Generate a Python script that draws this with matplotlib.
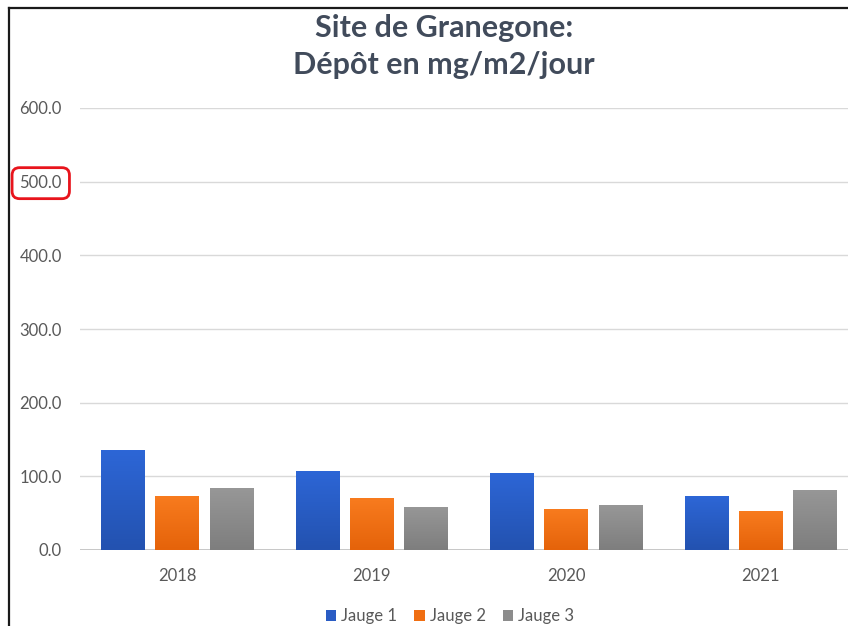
import matplotlib.pyplot as plt
import numpy as np
from matplotlib.colors import LinearSegmentedColormap
from matplotlib.lines import Line2D
from matplotlib.patches import Patch

# ── Data ──────────────────────────────────────────────────────────────────────
years = ["2018", "2019", "2020", "2021"]
jauge_1 = [135.5, 107.5, 105.0, 73.0]
jauge_2 = [73.0, 70.5, 55.5, 52.5]
jauge_3 = [84.0, 59.0, 60.5, 81.5]
series_names = ["Jauge 1", "Jauge 2", "Jauge 3"]
y_ticks = [0, 100, 200, 300, 400, 500, 600]

# (top, bottom) colours of the vertical gradient on each series
GRADIENTS = [("#2D66D6", "#2352B0"), ("#F87B1E", "#E5630A"), ("#979797", "#7E7E7E")]
LEGEND_COLORS = ["#2A5CC4", "#F06E12", "#8C8C8C"]
TEXT_COLOR = "#595959"
TITLE_COLOR = "#414B5B"

plt.rcParams["font.family"] = ["Lato", "DejaVu Sans"]

fig = plt.figure(figsize=(8.48, 6.26), dpi=100)
ax = fig.add_axes([80 / 848, 76 / 626, 778 / 848, 442 / 626])

x = np.arange(len(years))
width = 0.226
offsets = [-0.279, 0, 0.279]

for vals, off, (top, bot) in zip([jauge_1, jauge_2, jauge_3], offsets, GRADIENTS):
    bars = ax.bar(x + off, vals, width, color=top, zorder=3)
    cmap = LinearSegmentedColormap.from_list("g", [bot, top])
    grad = np.linspace(0, 1, 100).reshape(-1, 1)
    for b in bars:
        x0, w, h = b.get_x(), b.get_width(), b.get_height()
        im = ax.imshow(grad, cmap=cmap, origin="lower", aspect="auto",
                       extent=[x0, x0 + w, 0, h], zorder=4)
        im.set_clip_path(b)

ax.set_xlim(-0.5, len(years) - 0.5)
ax.set_ylim(0, 600)
ax.set_yticks(y_ticks)
ax.set_yticklabels([f"{v:.1f}" for v in y_ticks])
ax.set_xticks(x)
ax.set_xticklabels(years)
ax.grid(axis="y", color="#D9D9D9", linewidth=1, zorder=0)
ax.axhline(0, color="#BFBFBF", linewidth=1.2, zorder=2)
for s in ax.spines.values():
    s.set_visible(False)
ax.tick_params(length=0, colors=TEXT_COLOR, labelsize=12)
ax.tick_params(axis="y", pad=13)
ax.tick_params(axis="x", pad=13)

# highlight box around the 500.0 label
lbl = ax.get_yticklabels()[5]
lbl.set_bbox(dict(boxstyle="round,pad=0.45,rounding_size=0.45", facecolor="white",
                  edgecolor="#E8141C", linewidth=2))

fig.text(444 / 848, 1 - 28 / 626, "Site de Granegone:", ha="center", va="center",
         fontsize=22, fontweight="bold", color=TITLE_COLOR)
fig.text(444 / 848, 1 - 65 / 626, "Dépôt en mg/m2/jour", ha="center", va="center",
         fontsize=22, fontweight="bold", color=TITLE_COLOR)

handles = [Patch(facecolor=c, edgecolor="none") for c in LEGEND_COLORS]
fig.legend(handles, series_names, loc="center", bbox_to_anchor=(450 / 848, 1 - 616 / 626),
           ncol=3, frameon=False, fontsize=12, handlelength=0.65, handleheight=0.65,
           handletextpad=0.3, columnspacing=1.0, labelcolor=TEXT_COLOR)

# frame lines along the top and left edges
fig.add_artist(Line2D([9 / 848, 9 / 848], [0, 1 - 8 / 626], transform=fig.transFigure,
                      color="#1A1A1A", linewidth=1.6))
fig.add_artist(Line2D([9 / 848, 1], [1 - 8 / 626, 1 - 8 / 626], transform=fig.transFigure,
                      color="#1A1A1A", linewidth=1.6))

fig.savefig("out.png", dpi=100)
